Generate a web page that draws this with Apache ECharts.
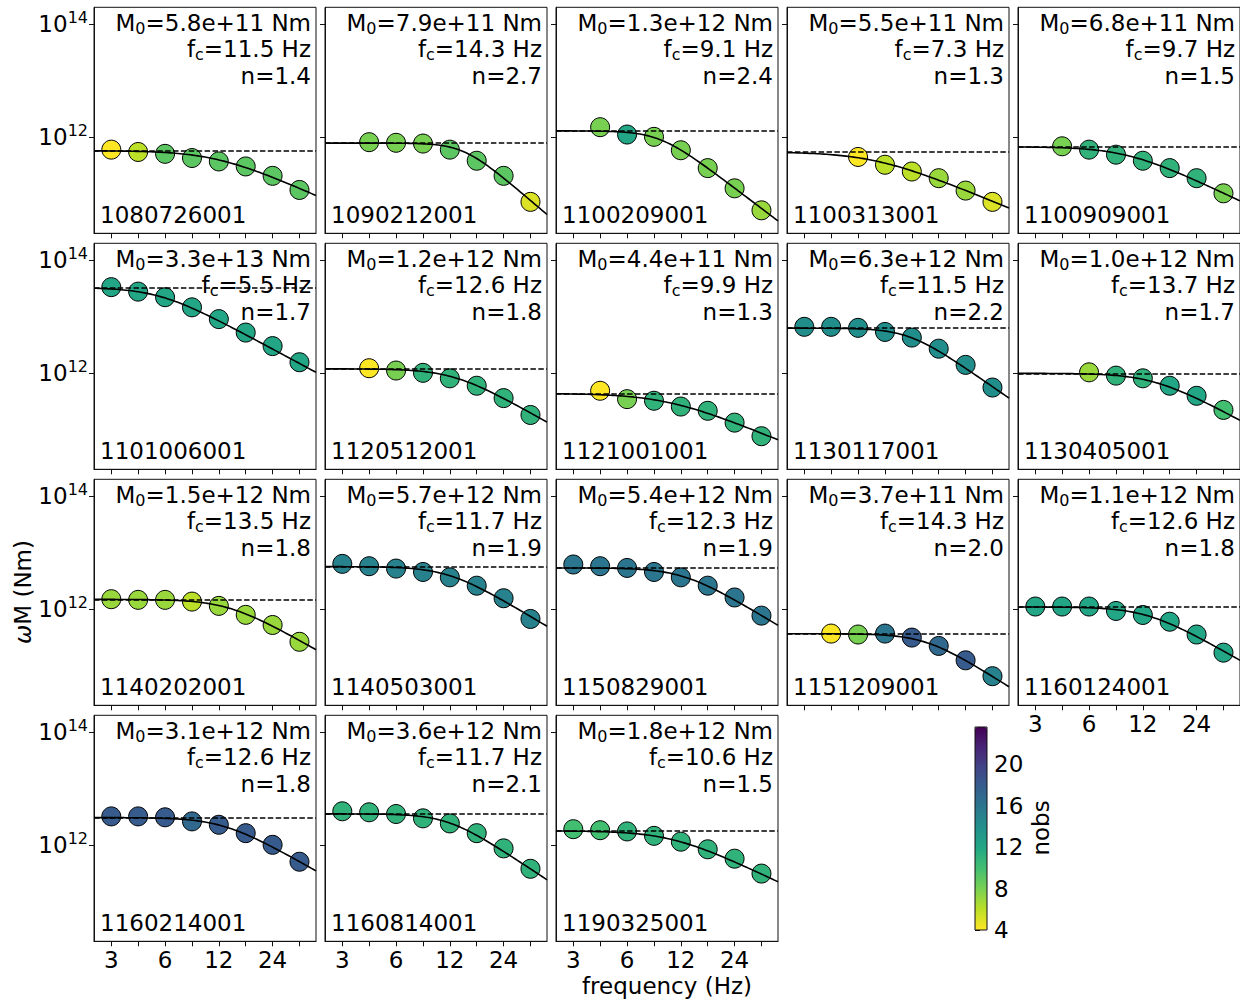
<!DOCTYPE html>
<html>
<head>
<meta charset="utf-8">
<script src="https://cdn.jsdelivr.net/npm/echarts@6/dist/echarts.min.js"></script>
<style>
html,body{margin:0;padding:0;background:#fff;}
#chart{width:1240px;height:1001px;}
</style>
</head>
<body>
<div id="chart"></div>
<script>
// ---------------- DATA ----------------
const eventIds = ['1080726001','1090212001','1100209001','1100313001','1100909001',
  '1101006001','1120512001','1121001001','1130117001','1130405001',
  '1140202001','1140503001','1150829001','1151209001','1160124001',
  '1160214001','1160814001','1190325001'];
const moment0 = [5.8e11,7.9e11,1.3e12,5.5e11,6.8e11, 3.3e13,1.2e12,4.4e11,6.3e12,1.0e12,
  1.5e12,5.7e12,5.4e12,3.7e11,1.1e12, 3.1e12,3.6e12,1.8e12];
const cornerFreq = [11.5,14.3,9.1,7.3,9.7, 5.5,12.6,9.9,11.5,13.7, 13.5,11.7,12.3,14.3,12.6, 12.6,11.7,10.6];
const falloffN = [1.4,2.7,2.4,1.3,1.5, 1.7,1.8,1.3,2.2,1.7, 1.8,1.9,1.9,2.0,1.8, 1.8,2.1,1.5];
// frequency bands (Hz)
const freqs = [3, 4.24, 6, 8.49, 12, 16.97, 24, 33.94];
const freqTickLabels = [3, 6, 12, 24];
const yTickValues = [1e12, 1e14];
const cbarTicks = [4, 8, 12, 16, 20];
// omega*M per band (Nm), null = no value
const spectra = [
  [6.05e11,5.5e11,5.1e11,4.3e11,3.74e11,3.05e11,2.08e11,1.17e11],
  [null,8.2e11,8.0e11,7.75e11,6.05e11,3.85e11,2.08e11,7.2e10],
  [null,1.51e12,1.12e12,1.02e12,5.9e11,2.85e11,1.25e11,5.1e10],
  [null,null,4.49e11,3.27e11,2.48e11,1.89e11,1.14e11,7.2e10],
  [null,6.93e11,6.05e11,4.93e11,3.85e11,2.85e11,1.89e11,1.02e11],
  [3.35e13,2.79e13,2.22e13,1.47e13,9.1e12,5.26e12,3.03e12,1.57e12],
  [null,1.23e12,1.12e12,1.02e12,8.15e11,6.03e11,3.64e11,1.83e11],
  [null,4.91e11,3.49e11,3.27e11,2.58e11,2.17e11,1.34e11,7.7e10],
  [6.65e12,6.65e12,6.38e12,5.4e12,4.29e12,2.73e12,1.41e12,5.6e11],
  [null,null,1.04e12,9.1e11,8.15e11,6.03e11,4.0e11,2.25e11],
  [1.51e12,1.47e12,1.47e12,1.37e12,1.15e12,7.98e11,5.28e11,2.66e11],
  [6.37e12,5.79e12,5.26e12,4.58e12,3.68e12,2.62e12,1.57e12,6.75e11],
  [6.21e12,5.79e12,5.4e12,4.58e12,3.68e12,2.62e12,1.62e12,7.73e11],
  [null,3.72e11,3.58e11,3.72e11,3.16e11,2.25e11,1.25e11,6.55e10],
  [1.12e12,1.12e12,1.12e12,9.35e11,7.94e11,6.03e11,3.58e11,1.71e11],
  [3.25e12,3.25e12,3.13e12,2.65e12,2.31e12,1.64e12,1.02e12,5.12e11],
  [4.0e12,3.84e12,3.58e12,3.0e12,2.44e12,1.64e12,8.83e11,3.84e11],
  [1.93e12,1.85e12,1.76e12,1.47e12,1.16e12,8.5e11,5.8e11,3.16e11]
];
// number of observations per band
const nobs = [
  [4,6,9,9,9,9,9,9],
  [null,8,8,8,9,9,9,5],
  [null,8,12,8,8,8,8,7],
  [null,null,4,6,6,7,7,5],
  [null,8,11,11,11,11,11,8],
  [12,12,12,12,12,12,12,12],
  [null,4,8,11,11,11,11,11],
  [null,4,8,11,11,11,11,11],
  [14,14,14,14,14,14,14,14],
  [null,null,7,11,11,12,12,10],
  [7,7,7,6,7,7,7,7],
  [15,15,15,15,15,15,15,15],
  [16,16,16,16,16,16,16,16],
  [null,4,8,16,18,17,18,15],
  [12,12,12,12,12,12,12,12],
  [18,18,18,17,18,18,18,18],
  [11,11,11,11,11,11,11,11],
  [10,10,11,11,11,11,11,11]
];
const nobsRange = [4, 23.6];
const viridisR = ['#fde725','#bddf26','#7ad151','#44bf70','#22a884','#21918c','#2a788e','#355f8d','#414487','#482475','#440154'];

// ---------------- LAYOUT ----------------
const FONT = 'DejaVu Sans';
const FS = 23;
const X0 = 94, DX = 231, PW = 222;
const Y0 = 7.3, DY = 236, PH = 226;
const XMIN = 2.4, XMAX = 42, YMIN = 2e10, YMAX = 2e14;

// fitted source model (Boatwright form) evaluated on the plotting range
function modelCurve(M0, fc, n) {
  const pts = [];
  const N = 90;
  for (let k = 0; k <= N; k++) {
    const f = XMIN * Math.pow(XMAX / XMIN, k / N);
    pts.push([f, M0 / Math.sqrt(1 + Math.pow(f / fc, 2 * n))]);
  }
  return pts;
}

const grids = [], xAxes = [], yAxes = [], series = [], graphics = [], scatterIdx = [];
const xLabelPanels = [14, 15, 16, 17];

eventIds.forEach((id, i) => {
  const r = Math.floor(i / 5), c = i % 5;
  const L = X0 + DX * c, T = Y0 + DY * r;
  grids.push({left: L, top: T, width: PW, height: PH, show: true,
    borderColor: '#111', borderWidth: 1, backgroundColor: 'transparent'});
  xAxes.push({
    type: 'log', gridIndex: i, min: XMIN, max: XMAX,
    axisLine: {show: true, lineStyle: {color: '#111', width: 1}},
    axisTick: {show: true, length: 5, customValues: freqs, lineStyle: {color: '#111', width: 1}},
    axisLabel: {show: xLabelPanels.indexOf(i) >= 0, customValues: freqTickLabels, fontSize: FS,
      fontFamily: FONT, color: '#000', margin: 7, formatter: v => String(Math.round(v))},
    splitLine: {show: false}, minorTick: {show: false}
  });
  yAxes.push({
    type: 'log', gridIndex: i, min: YMIN, max: YMAX,
    axisLine: {show: true, lineStyle: {color: '#111', width: 1}},
    axisTick: {show: true, length: 5, customValues: yTickValues, lineStyle: {color: '#111', width: 1}},
    axisLabel: {show: c === 0, customValues: yTickValues, margin: 6,
      formatter: v => '{b|10}{s|' + Math.round(Math.log10(v)) + '}',
      rich: {b: {fontSize: FS, fontFamily: FONT, color: '#000', lineHeight: 29},
             s: {fontSize: 16, fontFamily: FONT, color: '#000', lineHeight: 16, verticalAlign: 'top'}}},
    splitLine: {show: false}, minorTick: {show: false}
  });
  const pts = [];
  spectra[i].forEach((v, k) => { if (v !== null) pts.push([freqs[k], v, nobs[i][k]]); });
  scatterIdx.push(series.length);
  series.push({type: 'scatter', xAxisIndex: i, yAxisIndex: i, data: pts, symbolSize: 19,
    itemStyle: {borderColor: '#000', borderWidth: 1, opacity: 1}, z: 2});
  series.push({type: 'line', xAxisIndex: i, yAxisIndex: i, data: modelCurve(moment0[i], cornerFreq[i], falloffN[i]),
    showSymbol: false, smooth: false, lineStyle: {color: '#000', width: 1.6}, z: 3, silent: true,
    markLine: {silent: true, symbol: 'none', label: {show: false},
      lineStyle: {color: '#000', width: 1.5, type: [5.5, 2.4]}, data: [{yAxis: moment0[i]}]}});
  const rich = {n: {fontSize: FS, fontFamily: FONT, fill: '#000', lineHeight: 27},
                sub: {fontSize: 16, fontFamily: FONT, fill: '#000', lineHeight: 16, verticalAlign: 'bottom'}};
  const xr = L + PW - 5;
  graphics.push({type: 'text', x: xr, y: T + 15.5, z: 10, style: {
    text: '{n|M}{sub|0}{n|=' + moment0[i].toExponential(1) + ' Nm}', align: 'right', verticalAlign: 'middle', rich: rich}});
  graphics.push({type: 'text', x: xr, y: T + 42, z: 10, style: {
    text: '{n|f}{sub|c}{n|=' + cornerFreq[i].toFixed(1) + ' Hz}', align: 'right', verticalAlign: 'middle', rich: rich}});
  graphics.push({type: 'text', x: xr, y: T + 68.5, z: 10, style: {
    text: 'n=' + falloffN[i].toFixed(1), align: 'right', verticalAlign: 'middle',
    fontSize: FS, fontFamily: FONT, fill: '#000'}});
  graphics.push({type: 'text', x: L + 6, y: T + PH - 18, z: 10, style: {
    text: id, align: 'left', verticalAlign: 'middle', fontSize: FS, fontFamily: FONT, fill: '#000'}});
});

// colorbar axis
const cbIdx = eventIds.length;
const CB = {left: 975, top: 727, width: 12, height: 203};
grids.push({left: CB.left, top: CB.top, width: CB.width, height: CB.height, show: true,
  borderColor: '#111', borderWidth: 1, backgroundColor: 'transparent', z: 5});
xAxes.push({type: 'value', gridIndex: cbIdx, show: false, min: 0, max: 1});
yAxes.push({type: 'value', gridIndex: cbIdx, position: 'right', min: nobsRange[0], max: nobsRange[1],
  axisLine: {show: false}, splitLine: {show: false},
  axisTick: {show: true, length: 5, customValues: cbarTicks, lineStyle: {color: '#111'}},
  axisLabel: {show: true, customValues: cbarTicks, fontSize: FS, fontFamily: FONT, color: '#000', margin: 7}});

graphics.push({type: 'text', x: 23, y: 592, rotation: Math.PI / 2, z: 10, style: {
  text: '{i|ω}{n|M (Nm)}', align: 'center', verticalAlign: 'middle',
  rich: {i: {fontSize: FS, fontFamily: FONT, fontStyle: 'italic', fill: '#000'},
         n: {fontSize: FS, fontFamily: FONT, fill: '#000'}}}});
graphics.push({type: 'text', x: 667, y: 986, z: 10, style: {
  text: 'frequency (Hz)', align: 'center', verticalAlign: 'middle', fontSize: FS, fontFamily: FONT, fill: '#000'}});
graphics.push({type: 'text', x: 1041, y: 828, rotation: Math.PI / 2, z: 10, style: {
  text: 'nobs', align: 'center', verticalAlign: 'middle', fontSize: FS, fontFamily: FONT, fill: '#000'}});

const chart = echarts.init(document.getElementById('chart'), null, {renderer: 'svg'});
chart.setOption({
  animation: false,
  backgroundColor: '#fff',
  textStyle: {fontFamily: FONT},
  grid: grids, xAxis: xAxes, yAxis: yAxes, series: series, graphic: graphics,
  visualMap: [{type: 'continuous', min: nobsRange[0], max: nobsRange[1], dimension: 2,
    seriesIndex: scatterIdx, inRange: {color: viridisR}, left: CB.left, top: CB.top,
    itemWidth: CB.width, itemHeight: CB.height, calculable: false, showLabel: false,
    text: null, padding: 0, hoverLink: false, orient: 'vertical'}]
});
</script>
</body>
</html>
